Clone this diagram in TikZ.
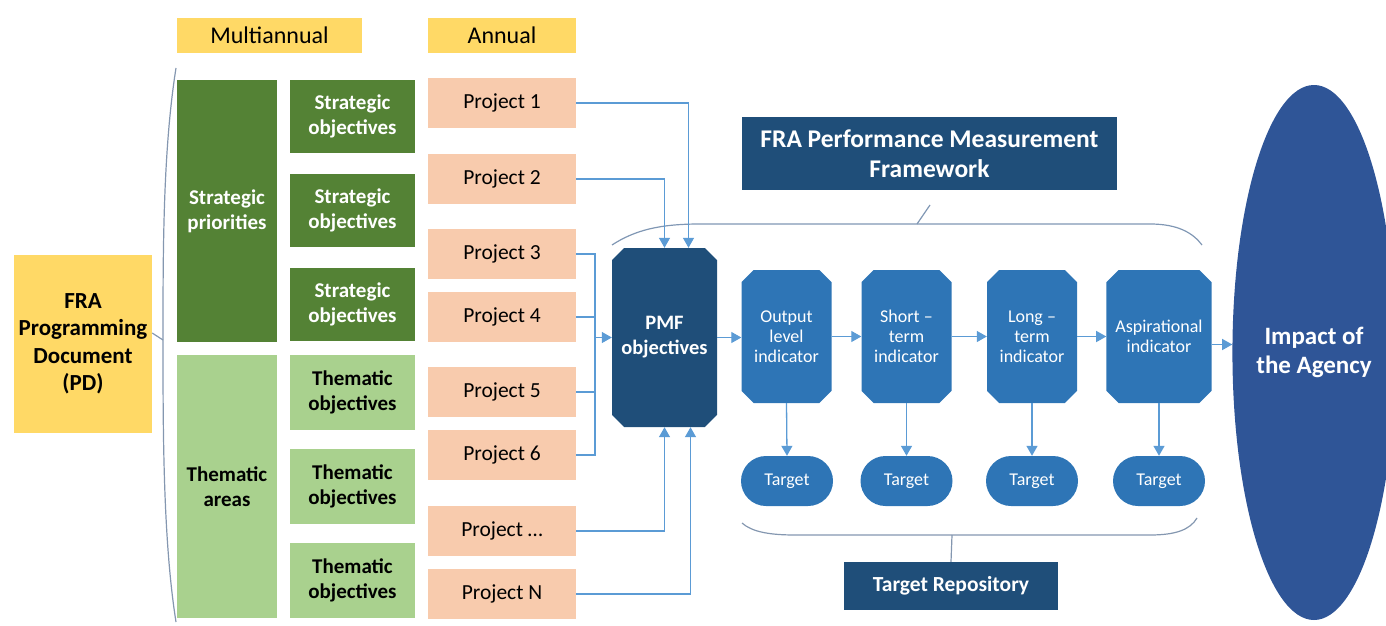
\documentclass[tikz,border=0pt]{standalone}
\usepackage{fontspec}
\setmainfont{Carlito}
\usetikzlibrary{shapes.misc,shapes.geometric,arrows.meta,calc}
\definecolor{cyellow}{HTML}{FFD966}
\definecolor{dgreen}{HTML}{548235}
\definecolor{lgreen}{HTML}{A9D18E}
\definecolor{peach}{HTML}{F8CBAD}
\definecolor{dblue}{HTML}{1F4E79}
\definecolor{mblue}{HTML}{2E75B6}
\definecolor{lblue}{HTML}{5B9BD5}
\definecolor{eblue}{HTML}{2F5597}
\definecolor{bracec}{HTML}{8497B0}
\tikzset{
  base/.style={inner sep=0pt, align=center, draw=none},
  ybox/.style={base, fill=cyellow, font=\fontsize{24}{28}\selectfont},
  pdbox/.style={base, fill=cyellow, font=\bfseries\fontsize{23}{27.5}\selectfont},
  dgbox/.style={base, fill=dgreen, text=white, font=\bfseries\fontsize{21}{25}\selectfont},
  lgbox/.style={base, fill=lgreen, text=black, font=\bfseries\fontsize{21}{25}\selectfont},
  projbox/.style={base, fill=peach, text=black, minimum width=148pt, minimum height=50pt, font=\fontsize{21.5}{25}\selectfont},
  pmfbox/.style={base, chamfered rectangle, chamfered rectangle xsep=9pt, fill=dblue, text=white, font=\bfseries\fontsize{20.5}{25}\selectfont},
  indbox/.style={base, chamfered rectangle, chamfered rectangle xsep=9pt, fill=mblue, text=white, minimum height=133pt, font=\fontsize{18}{20}\selectfont},
  tgtbox/.style={base, rounded rectangle, fill=mblue, text=white, minimum width=92pt, minimum height=50pt, font=\fontsize{18}{20}\selectfont},
  hdbox/.style={base, fill=dblue, text=white, font=\bfseries\fontsize{25.5}{30}\selectfont},
  conn/.style={draw=lblue, line width=1.3pt, -{Triangle[length=10pt,width=11pt]}},
  cline/.style={draw=lblue, line width=1.3pt},
  brace/.style={draw=bracec, line width=1.2pt},
}
\begin{document}
\begin{tikzpicture}[x=1pt,y=-1pt]
\useasboundingbox (0,0) rectangle (1386,626);
% headers
\node[ybox, minimum width=185pt, minimum height=35pt] (multi) at (269.5,35.5) {Multiannual};
\node[ybox, minimum width=148pt, minimum height=35pt] (annual) at (502,35.5) {Annual};
% PD
\node[pdbox, minimum width=138pt, minimum height=178pt] (pd) at (83,344) {FRA\\Programming\\Document\\(PD)};
% strategic
\node[dgbox, minimum width=100pt, minimum height=262pt] (sp) at (227,211) {Strategic\\priorities};
\node[dgbox, minimum width=125pt, minimum height=73pt] (so1) at (352.5,116.5) {Strategic\\objectives};
\node[dgbox, minimum width=125pt, minimum height=73pt] (so2) at (352.5,210.5) {Strategic\\objectives};
\node[dgbox, minimum width=125pt, minimum height=73pt] (so3) at (352.5,304.5) {Strategic\\objectives};
% thematic
\node[lgbox, minimum width=100pt, minimum height=263pt] (ta) at (227,486.5) {Thematic\\areas};
\node[lgbox, minimum width=125pt, minimum height=75pt] (to1) at (352.5,392.5) {Thematic\\objectives};
\node[lgbox, minimum width=125pt, minimum height=75pt] (to2) at (352.5,486.5) {Thematic\\objectives};
\node[lgbox, minimum width=125pt, minimum height=75pt] (to3) at (352.5,580.5) {Thematic\\objectives};
% projects
\node[projbox] (p1) at (502,103) {Project 1};
\node[projbox] (p2) at (502,179) {Project 2};
\node[projbox] (p3) at (502,254) {Project 3};
\node[projbox] (p4) at (502,317) {Project 4};
\node[projbox] (p5) at (502,392) {Project 5};
\node[projbox] (p6) at (502,455) {Project 6};
\node[projbox] (p7) at (502,531) {Project \dots};
\node[projbox] (p8) at (502,594) {Project N};
% PMF
\node[pmfbox, minimum width=105pt, minimum height=179pt] (pmf) at (664.5,337.5) {PMF\\objectives};
% indicators
\node[indbox, minimum width=90pt] (out) at (786.5,336.5) {Output\\level\\indicator};
\node[indbox, minimum width=90pt] (short) at (906.5,336.5) {Short --\\term\\indicator};
\node[indbox, minimum width=90pt] (long) at (1032,336.5) {Long --\\term\\indicator};
\node[indbox, minimum width=100pt] (asp) at (1159,336.5) {Aspirational\\indicator};
% targets
\node[tgtbox] (t1) at (787,481) {Target};
\node[tgtbox] (t2) at (906.5,481) {Target};
\node[tgtbox] (t3) at (1032,481) {Target};
\node[tgtbox] (t4) at (1159,481) {Target};
% headers blue
\node[hdbox, minimum width=375pt, minimum height=73pt] (fpmf) at (929.5,153.5) {FRA Performance Measurement\\Framework};
\node[hdbox, font=\bfseries\fontsize{21.5}{25}\selectfont, minimum width=214pt, minimum height=48pt] (trep) at (951,586) {Target Repository};
% ellipse
\node[base, ellipse, fill=eblue, text=white, minimum width=142pt, minimum height=535pt, font=\bfseries\fontsize{25}{29}\selectfont] (imp) at (1314,352.5) {Impact of\\the Agency};
% left brace
\coordinate (lb) at (163,340);
\draw[brace] (176,68) .. controls (163,150) and (163,250) .. (lb) .. controls (163,430) and (163,540) .. (176,622);
\draw[brace] ($(pd.east)+(0,-11)$) -- (lb);
% top brace
\coordinate (tb) at (930,205);
\draw[brace, draw=bracec!90!lblue] (612,245) .. controls (635,230) and (660,224) .. (700,224) -- (1150,224) .. controls (1178,224) and (1193,233) .. (1202,245);
\draw[brace, draw=bracec!90!lblue] (917,224) -- (tb);
% bottom brace
\draw[brace] (742,523) .. controls (752,532) and (770,535) .. (795,535) -- (1150,535) .. controls (1175,535) and (1190,530) .. (1197,518);
\draw[brace] (952,535) -- (trep.north);
% connectors projects -> PMF
\coordinate (pmfa) at ($(pmf.north)+(24,0)$);
\coordinate (pmfb) at ($(pmf.south)+(26,0)$);
\draw[conn] (p1.east) -| (pmfa);
\draw[conn] (p2.east) -| (pmf.north);
\draw[conn] (p7.east) -| (pmf.south);
\draw[conn] (p8.east) -| (pmfb);
\coordinate (bar) at (595,0);
\draw[cline] (p3.east) -- (p3.east -| bar) -- (p6.east -| bar) -- (p6.east);
\draw[cline] (p4.east) -- (p4.east -| bar);
\draw[cline] (p5.east) -- (p5.east -| bar);
\draw[conn] (pmf.west -| bar) -- (pmf.west);
% chain
\draw[conn] (pmf.east) -- (pmf.east -| out.west);
\draw[conn] (out.east) -- (short.west);
\draw[conn] (short.east) -- (long.west);
\draw[conn] (long.east) -- (asp.west);
\coordinate (aspo) at ($(asp.east)+(0,8)$);
\draw[conn] (aspo) -- (aspo -| imp.west);
% indicators -> targets
\draw[conn] (out.south) -- (t1.north);
\draw[conn] (short.south) -- (t2.north);
\draw[conn] (long.south) -- (t3.north);
\draw[conn] (asp.south) -- (t4.north);
\end{tikzpicture}
\end{document}
